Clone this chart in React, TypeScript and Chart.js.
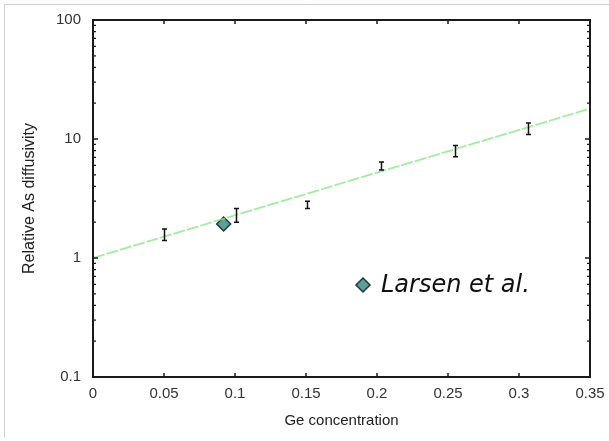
import React, { useEffect, useRef } from "react";
import { Chart, registerables } from "chart.js";

Chart.register(...registerables);

// Data
const geConc = [0.05, 0.101, 0.151, 0.203, 0.255, 0.306];
const diffMid = [1.56, 2.3, 2.8, 5.95, 7.9, 12.2];
const diffLow = [1.4, 2.0, 2.6, 5.5, 7.1, 10.9];
const diffHigh = [1.75, 2.6, 3.0, 6.4, 8.8, 13.6];

const larsenX = [0.092];
const larsenY = [1.93];

const fitX = [0, 0.35];
const fitY = [1.0, 18.0];

const xTicks = [0, 0.05, 0.1, 0.15, 0.2, 0.25, 0.3, 0.35];
const yTicks = [0.1, 1, 10, 100];

const xTitle = "Ge concentration";
const yTitle = "Relative As diffusivity";
const legendLabel = "Larsen et al.";

const fmtX = (v: number) => {
  const r = Math.round(v * 100) / 100;
  return r === 0 ? "0" : String(r);
};

export default function App() {
  const ref = useRef<HTMLCanvasElement | null>(null);

  useEffect(() => {
    document.body.style.margin = "0";
    const canvas = ref.current!;

    const framePlugin = {
      id: "framePlugin",
      beforeDraw(chart: any) {
        const ctx = chart.ctx;
        ctx.save();
        ctx.fillStyle = "#ffffff";
        ctx.fillRect(0, 0, chart.width, chart.height);
        ctx.strokeStyle = "#cfcfcf";
        ctx.lineWidth = 1;
        ctx.beginPath();
        ctx.moveTo(4.5, 437);
        ctx.lineTo(4.5, 4.5);
        ctx.lineTo(609, 4.5);
        ctx.stroke();
        ctx.restore();
      },
      afterDatasetsDraw(chart: any) {
        const ctx = chart.ctx;
        const xs = chart.scales.x;
        const ys = chart.scales.y;
        const { left, right, top, bottom } = chart.chartArea;
        ctx.save();
        // error bars
        ctx.strokeStyle = "#111";
        ctx.lineWidth = 1.5;
        geConc.forEach((gx, i) => {
          const px = Math.round(xs.getPixelForValue(gx)) + 0.5;
          const y1 = ys.getPixelForValue(diffLow[i]);
          const y2 = ys.getPixelForValue(diffHigh[i]);
          ctx.beginPath();
          ctx.moveTo(px, y1);
          ctx.lineTo(px, y2);
          ctx.moveTo(px - 2.5, y1);
          ctx.lineTo(px + 2.5, y1);
          ctx.moveTo(px - 2.5, y2);
          ctx.lineTo(px + 2.5, y2);
          ctx.stroke();
        });
        // frame
        ctx.strokeStyle = "#1a1a1a";
        ctx.lineWidth = 2;
        ctx.strokeRect(left, top, right - left, bottom - top);
        // x ticks inside (bottom and top)
        ctx.lineWidth = 1.5;
        xTicks.forEach((t) => {
          const px = xs.getPixelForValue(t);
          ctx.beginPath();
          ctx.moveTo(px, bottom);
          ctx.lineTo(px, bottom - 4);
          ctx.moveTo(px, top);
          ctx.lineTo(px, top + 4);
          ctx.stroke();
        });
        // y ticks inside (left and right), majors and minors
        ctx.lineWidth = 1.2;
        for (let d = 0; d < 3; d++) {
          const base = yTicks[d];
          for (let m = 1; m <= 10; m++) {
            const v = base * m;
            const py = ys.getPixelForValue(v);
            const len = m === 1 || m === 10 ? 5 : 3;
            ctx.beginPath();
            ctx.moveTo(left, py);
            ctx.lineTo(left + len, py);
            ctx.moveTo(right, py);
            ctx.lineTo(right - len, py);
            ctx.stroke();
          }
        }
        // legend
        const lx = 363;
        const ly = 285;
        ctx.beginPath();
        ctx.moveTo(lx, ly - 7);
        ctx.lineTo(lx + 7, ly);
        ctx.lineTo(lx, ly + 7);
        ctx.lineTo(lx - 7, ly);
        ctx.closePath();
        ctx.fillStyle = "#5e9e98";
        ctx.fill();
        ctx.strokeStyle = "#1e3a3a";
        ctx.lineWidth = 1.5;
        ctx.stroke();
        ctx.fillStyle = "#111";
        ctx.font = "italic 24px 'DejaVu Sans'";
        ctx.textBaseline = "middle";
        ctx.textAlign = "left";
        ctx.fillText(legendLabel, 381, ly + 1);
        ctx.restore();
      },
    };

    const chart = new Chart(canvas, {
      type: "scatter",
      data: {
        datasets: [
          {
            label: "fit",
            type: "line",
            data: fitX.map((x, i) => ({ x, y: fitY[i] })),
            borderColor: "rgba(130, 230, 130, 0.75)",
            borderWidth: 1.8,
            borderDash: [12, 2],
            pointRadius: 0,
            fill: false,
          },
          {
            label: "data",
            data: geConc.map((x, i) => ({ x, y: diffMid[i] })),
            pointRadius: 0,
          },
          {
            label: legendLabel,
            data: larsenX.map((x, i) => ({ x, y: larsenY[i] })),
            pointStyle: "rectRot",
            pointRadius: 7,
            backgroundColor: "#5e9e98",
            borderColor: "#1e3a3a",
            borderWidth: 1.5,
          },
        ],
      },
      options: {
        responsive: false,
        animation: false,
        layout: { padding: { left: 20, right: 19, top: 20, bottom: 11 } },
        plugins: {
          legend: { display: false },
          tooltip: { enabled: false },
        },
        scales: {
          x: {
            type: "linear",
            min: 0,
            max: 0.35,
            grid: { display: false, drawTicks: false },
            border: { display: false },
            afterBuildTicks: (s: any) => {
              s.ticks = xTicks.map((v) => ({ value: v }));
            },
            afterFit: (s: any) => {
              s.height = 53;
              s.paddingLeft = 0;
              s.paddingRight = 0;
            },
            ticks: {
              padding: 8,
              color: "#333",
              font: { family: "'Liberation Sans'", size: 15 },
              callback: (v: any) => fmtX(Number(v)),
              maxRotation: 0,
              autoSkip: false,
            },
            title: {
              display: true,
              text: xTitle,
              color: "#222",
              font: { family: "'Liberation Sans'", size: 15 },
              padding: { top: 2, bottom: 0 },
            },
          },
          y: {
            type: "logarithmic",
            min: 0.1,
            max: 100,
            grid: { display: false, drawTicks: false },
            border: { display: false },
            afterBuildTicks: (s: any) => {
              s.ticks = yTicks.map((v) => ({ value: v }));
            },
            afterFit: (s: any) => {
              s.width = 73;
              s.paddingTop = 0;
              s.paddingBottom = 0;
            },
            ticks: {
              padding: 12,
              color: "#333",
              font: { family: "'Liberation Sans'", size: 15 },
              callback: (v: any) => String(v),
              autoSkip: false,
            },
            title: {
              display: true,
              text: yTitle,
              color: "#222",
              font: { family: "'Liberation Sans'", size: 16 },
              padding: { top: 0, bottom: 0 },
            },
          },
        },
      },
      plugins: [framePlugin],
    });
    return () => chart.destroy();
  }, []);

  return (
    <div style={{ position: "absolute", left: 0, top: 0, width: 609, height: 441 }}>
      <canvas ref={ref} width={609} height={441} />
    </div>
  );
}
